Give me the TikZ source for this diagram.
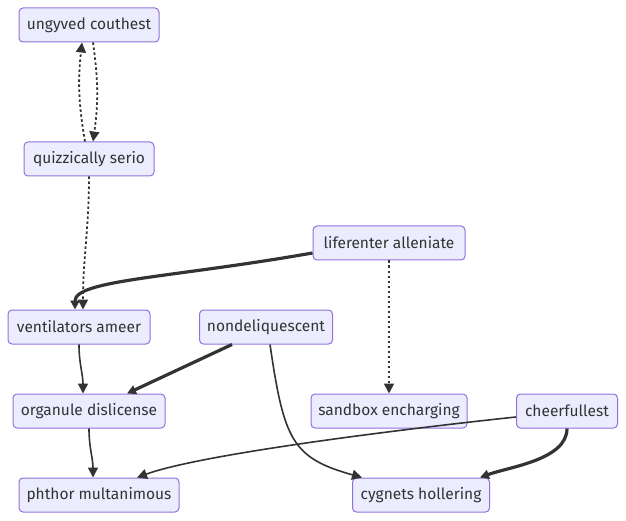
\documentclass[tikz,border=0pt]{standalone}
\usepackage{fontspec}
\setmainfont{Fira Sans}
\usetikzlibrary{arrows.meta}
\definecolor{boxfill}{HTML}{ECECFF}
\definecolor{boxline}{HTML}{9370DB}
\definecolor{edgeline}{HTML}{333333}
\tikzset{box/.style = {draw = boxline, fill = boxfill, line width = 1pt, rounded corners = 4pt,
    minimum height = 34pt, inner sep = 0, text = edgeline, font = \fontsize{15.5}{18}\selectfont}}
\tikzset{edge/.style = {draw = edgeline, line width = 1.6pt, -{Triangle[length = 10pt, width = 10pt]}}}
\tikzset{thickedge/.style = {edge, line width = 3.2pt, -{Triangle[length = 9pt, width = 9pt]}}}
\tikzset{dotedge/.style = {edge, line width = 1.8pt, dash pattern = on 2.5pt off 2.5pt}}

\begin{document}
\begin{tikzpicture}[x = 1pt, y = 1pt]
      \useasboundingbox (0, 0) rectangle (626, 520);
      \node [box, minimum width = 140pt] (u) at (89, 495) {ungyved couthest};
      \node [box, minimum width = 130pt] (q) at (89, 361) {quizzically serio};
      \node [box, minimum width = 152pt] (l) at (389, 277) {liferenter alleniate};
      \node [box, minimum width = 142pt] (v) at (79, 193) {ventilators ameer};
      \node [box, minimum width = 133pt] (n) at (266, 193) {nondeliquescent};
      \node [box, minimum width = 152pt] (o) at (89, 109) {organule dislicense};
      \node [box, minimum width = 156pt] (s) at (389, 109) {sandbox encharging};
      \node [box, minimum width = 101pt] (c) at (567, 109) {cheerfullest};
      \node [box, minimum width = 160pt] (p) at (99, 25) {phthor multanimous};
      \node [box, minimum width = 137pt] (h) at (421, 25) {cygnets hollering};

      % dotted links
      \draw [dotedge] ([xshift = -4pt]q.north) to [bend left = 8] ([xshift = -7pt]u.south);
      \draw [dotedge] ([xshift = 4pt]u.south) to [bend left = 8] ([xshift = 4pt]q.north);
      \draw [dotedge] (q.south) to [out = -90, in = 90] ([xshift = 4pt]v.north);
      \draw [dotedge] (l.south) -- (s.north);

      % thick links
      \draw [thickedge] ([yshift = -10pt]l.west) .. controls (170, 242) and (75, 240) .. ([xshift = -4pt]v.north);
      \draw [thickedge] ([xshift = -34pt]n.south) -- ([xshift = 38pt]o.north);
      \draw [thickedge] (c.south) to [out = -90, in = 20, looseness = 0.8] ([xshift = 59pt]h.north);

      % normal links
      \draw [edge] (v.south) to [out = -90, in = 90] ([xshift = -6pt]o.north);
      \draw [edge] (o.south) to [out = -90, in = 90] ([xshift = -6pt]p.north);
      \draw [edge] ([xshift = 4pt]n.south) .. controls (284, 80) and (292, 62) .. ([xshift = -59pt]h.north);
      \draw [edge] ([yshift = -6pt]c.west) to [out = 186, in = 20, looseness = 0.5] ([xshift = 38pt]p.north);
    \end{tikzpicture}
\end{document}
